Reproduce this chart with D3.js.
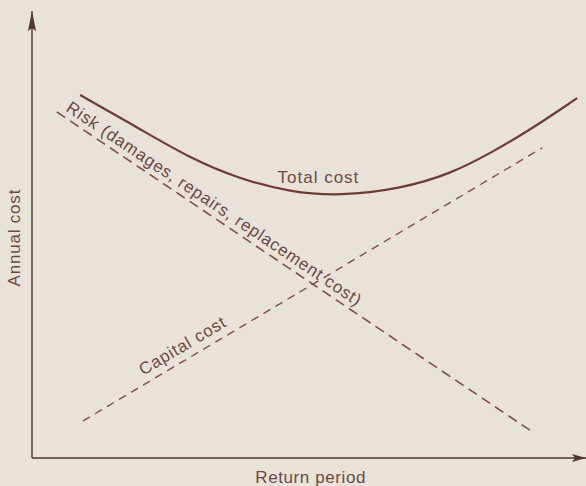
<!DOCTYPE html>
<html>
<head>
<meta charset="utf-8">
<script src="https://cdn.jsdelivr.net/npm/d3@7"></script>
<style>
  html, body { margin: 0; padding: 0; background: #e9e2d8; }
  svg { display: block; }
  text { font-family: "Liberation Sans", Arial, sans-serif; fill: #6b4a46; }
</style>
</head>
<body>
<svg id="chart" width="586" height="486"></svg>
<script>
// Conceptual cost curves against return period (arbitrary units, 0–100)
const riskCost    = [[4.5, 77.4], [89.9, 6.2]];
const capitalCost = [[9.2, 8.3], [92.1, 69.4]];
const totalCost = [
  [8.7, 81.2], [19.5, 73.6], [28.5, 67.1], [37.5, 62.4], [46.6, 59.5],
  [55.6, 58.6], [66.4, 60.2], [75.5, 63.5], [83.2, 68.5], [89.9, 73.4],
  [98.4, 80.5]
];
const axisLabels = { x: "Return period", y: "Annual cost" };
const curveLabels = {
  risk: "Risk (damages, repairs, replacement cost)",
  capital: "Capital cost",
  total: "Total cost"
};

const x = d3.scaleLinear().domain([0, 100]).range([32, 586]);
const y = d3.scaleLinear().domain([0, 100]).range([458, 11]);

const svg = d3.select("#chart");
const ink = "#4f3532";
const lineCol = "#7d4f49";

// arrowheads for the two axes
const defs = svg.append("defs");
defs.append("marker")
  .attr("id", "arrow")
  .attr("viewBox", "0 0 14 8")
  .attr("refX", 14).attr("refY", 4)
  .attr("markerWidth", 14).attr("markerHeight", 8)
  .attr("markerUnits", "userSpaceOnUse")
  .attr("orient", "auto")
  .append("path")
  .attr("d", "M0,0 L14,4 L0,8 L3,4 Z")
  .attr("fill", ink);
defs.append("marker")
  .attr("id", "arrowY")
  .attr("viewBox", "0 0 20 8")
  .attr("refX", 20).attr("refY", 4)
  .attr("markerWidth", 20).attr("markerHeight", 8)
  .attr("markerUnits", "userSpaceOnUse")
  .attr("orient", "auto")
  .append("path")
  .attr("d", "M0,0 L20,4 L0,8 L3,4 Z")
  .attr("fill", ink);

// axes
svg.append("line")
  .attr("x1", x(0)).attr("y1", y(0))
  .attr("x2", x(0)).attr("y2", y(100))
  .attr("stroke", ink).attr("stroke-width", 1.4)
  .attr("marker-end", "url(#arrowY)");
svg.append("line")
  .attr("x1", x(0)).attr("y1", y(0))
  .attr("x2", x(100)).attr("y2", y(0))
  .attr("stroke", ink).attr("stroke-width", 1.4)
  .attr("marker-end", "url(#arrow)");

const straight = d3.line().x(d => x(d[0])).y(d => y(d[1]));
const smooth = d3.line().x(d => x(d[0])).y(d => y(d[1])).curve(d3.curveBasis);

// dashed component curves
svg.append("path").datum(riskCost)
  .attr("d", straight)
  .attr("fill", "none").attr("stroke", lineCol)
  .attr("stroke-width", 1.6).attr("stroke-dasharray", "10,6");
svg.append("path").datum(capitalCost)
  .attr("d", straight)
  .attr("fill", "none").attr("stroke", lineCol)
  .attr("stroke-width", 1.4).attr("stroke-dasharray", "8,6");

// total cost curve
svg.append("path").datum(totalCost)
  .attr("d", smooth)
  .attr("fill", "none").attr("stroke", "#6e3b36")
  .attr("stroke-width", 2.2);

// a label laid along a straight segment
function alongLabel(seg, t, text, offset) {
  const [p0, p1] = seg;
  const px = x(p0[0] + (p1[0] - p0[0]) * t);
  const py = y(p0[1] + (p1[1] - p0[1]) * t);
  const ang = Math.atan2(y(p1[1]) - y(p0[1]), x(p1[0]) - x(p0[0])) * 180 / Math.PI;
  svg.append("text")
    .attr("transform", `translate(${px},${py}) rotate(${ang})`)
    .attr("dy", offset)
    .attr("font-size", 17)
    .attr("letter-spacing", 0.8)
    .text(text);
}
alongLabel(riskCost, 0.01, curveLabels.risk, -6);
alongLabel(capitalCost, 0.14, curveLabels.capital, -8);

svg.append("text")
  .attr("x", x(51.7)).attr("y", 183)
  .attr("text-anchor", "middle")
  .attr("font-size", 17).attr("letter-spacing", 1)
  .text(curveLabels.total);

svg.append("text")
  .attr("x", x(50.3)).attr("y", 483)
  .attr("text-anchor", "middle")
  .attr("font-size", 17).attr("letter-spacing", 0.6)
  .text(axisLabels.x);

svg.append("text")
  .attr("transform", `translate(20,${y(49.3)}) rotate(-90)`)
  .attr("text-anchor", "middle")
  .attr("font-size", 17).attr("letter-spacing", 0.8)
  .text(axisLabels.y);
</script>
</body>
</html>
